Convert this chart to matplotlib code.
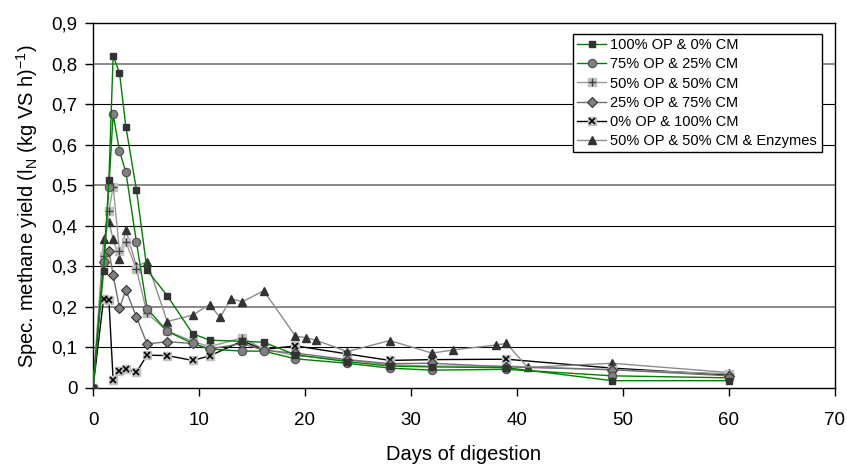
import matplotlib.pyplot as plt
from matplotlib.ticker import FuncFormatter

plt.rcParams['font.family'] = ['Liberation Sans', 'DejaVu Sans']
plt.rcParams['mathtext.fontset'] = 'custom'
plt.rcParams['mathtext.rm'] = 'Liberation Sans'

# sampling days shared by the five mixtures
days = [0, 1.0, 1.5, 1.9, 2.5, 3.1, 4.1, 5.1, 7.0, 9.4, 11.0, 14.1, 16.1,
        19.1, 24, 28, 32, 39, 49, 60]

op100 = [0, 0.289, 0.513, 0.820, 0.778, 0.645, 0.489, 0.291, 0.228, 0.134,
         0.118, 0.115, 0.113, 0.082, 0.065, 0.054, 0.052, 0.050, 0.018, 0.018]
op75 = [0, 0.31, 0.496, 0.676, 0.585, 0.533, 0.360, 0.196, 0.140, 0.110,
        0.096, 0.091, 0.091, 0.072, 0.061, 0.049, 0.044, 0.046, 0.030, 0.025]
op50 = [0, 0.326, 0.437, 0.497, 0.337, 0.360, 0.293, 0.184, 0.141, 0.115,
        0.102, 0.124, 0.096, 0.080, 0.069, 0.057, 0.054, 0.054, 0.045, 0.035]
op25 = [0, 0.312, 0.338, 0.279, 0.197, 0.242, 0.175, 0.109, 0.114, 0.110,
        0.096, 0.110, 0.093, 0.086, 0.070, 0.060, 0.061, 0.052, 0.045, 0.030]
op0 = [0, 0.220, 0.216, 0.020, 0.043, 0.047, 0.039, 0.081, 0.080, 0.068,
       0.079, 0.116, 0.095, 0.104, 0.084, 0.068, 0.070, 0.071, 0.049, 0.032]

# enzyme run was sampled on other days
days_enz = [0, 1.0, 1.5, 1.9, 2.5, 3.1, 4.1, 5.1, 7.0, 9.4, 11.0, 12, 13,
            14.1, 16.1, 19.1, 20.1, 21, 24, 28, 32, 34, 38, 39, 41, 49, 60]
enz = [0, 0.367, 0.410, 0.367, 0.318, 0.390, 0.300, 0.312, 0.164, 0.180,
       0.206, 0.174, 0.220, 0.213, 0.240, 0.128, 0.124, 0.118, 0.090, 0.117,
       0.086, 0.094, 0.106, 0.110, 0.051, 0.061, 0.038]

labels = ['100% OP & 0% CM', '75% OP & 25% CM', '50% OP & 50% CM',
          '25% OP & 75% CM', '0% OP & 100% CM', '50% OP & 50% CM & Enzymes']

fig = plt.figure(figsize=(8.47, 4.68), dpi=100)
ax = fig.add_axes([0.1098, 0.171, 0.876, 0.779])

# horizontal grid, some lines drawn grey like in the original
for v in [0.1, 0.2, 0.3, 0.4, 0.5, 0.6, 0.7, 0.8]:
    if round(v * 10) in (2, 5, 8):
        ax.axhline(v, color='#808080', lw=1.3, zorder=0)
    else:
        ax.axhline(v, color='black', lw=0.8, zorder=0)

handles = []

h, = ax.plot(days, op100, color='#008000', lw=1, marker='s', ms=5,
             mfc='#333333', mec='#333333', zorder=5)
handles.append(h)

h, = ax.plot(days, op75, color='#008000', lw=1, marker='o', ms=6,
             mfc='#808080', mec='#505050', mew=0.8, zorder=4)
handles.append(h)

l1, = ax.plot(days, op50, color='#999999', lw=1, marker='s', ms=6,
              mfc='#c0c0c0', mec='#c0c0c0', zorder=3)
l2, = ax.plot(days, op50, ls='none', marker='+', ms=6, mec='#404040',
              mew=1, zorder=3)
handles.append((l1, l2))

h, = ax.plot(days, op25, color='#707070', lw=1, marker='D', ms=5.5,
             mfc='#808080', mec='#303030', mew=0.8, zorder=3)
handles.append(h)

l1, = ax.plot(days, op0, color='black', lw=1, marker='s', ms=6,
              mfc='#c0c0c0', mec='#c0c0c0', zorder=2)
l2, = ax.plot(days, op0, ls='none', marker='x', ms=5, mec='black',
              mew=1.2, zorder=2)
handles.append((l1, l2))

h, = ax.plot(days_enz, enz, color='#8c8c8c', lw=1, marker='^', ms=5.5,
             mfc='#333333', mec='#333333', zorder=2)
handles.append(h)

ax.set_xlim(0, 70)
ax.set_ylim(0, 0.9)
ax.set_xticks(range(0, 71, 10))
ax.set_yticks([i / 10 for i in range(10)])
ax.yaxis.set_major_formatter(FuncFormatter(
    lambda v, p: '0' if v == 0 else f'{v:.1f}'.replace('.', ',')))
ax.tick_params(direction='out', length=6, width=1, labelsize=13.5,
               colors='black')
ax.tick_params(axis='x', pad=11)
ax.tick_params(axis='y', pad=5)
for s in ax.spines.values():
    s.set_linewidth(1)
    s.set_color('black')

ax.set_xlabel('Days of digestion', fontsize=14.5, labelpad=12)
ax.set_ylabel(r'Spec. methane yield (l$_\mathrm{N}$ (kg VS h)$^\mathrm{-1}$)',
              fontsize=14.5, labelpad=8)

leg = ax.legend(handles, labels, loc='upper right',
                bbox_to_anchor=(0.982, 0.971), fontsize=10.5, frameon=True,
                fancybox=False, edgecolor='black', framealpha=1,
                handlelength=2, handletextpad=0.3, borderpad=0.3,
                labelspacing=0.35, borderaxespad=0)
leg.get_frame().set_linewidth(1)

fig.savefig('out.png', dpi=100)
